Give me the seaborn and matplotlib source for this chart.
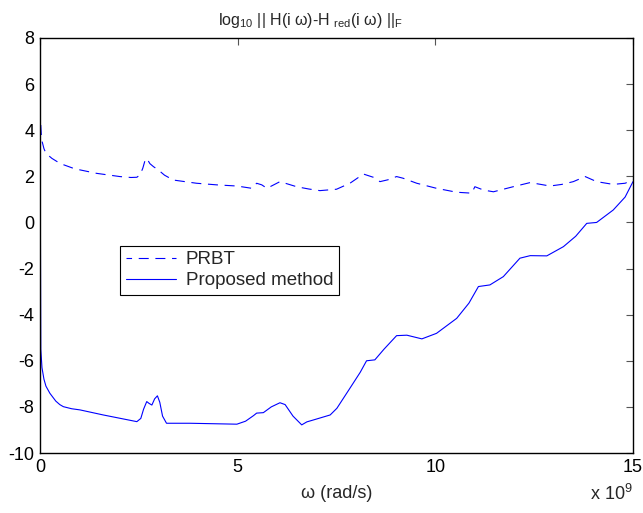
import matplotlib
matplotlib.use("Agg")
import matplotlib.pyplot as plt
import seaborn as sns

# Data (omega in units of 1e9 rad/s)
prbt_w = [0.0, 0.01, 0.04, 0.10, 0.15, 0.30, 0.45, 0.60, 0.84, 1.01, 1.43, 2.02, 2.30, 2.45,
          2.53, 2.60, 2.66, 2.70, 2.78, 2.87, 2.99, 3.15, 3.37, 3.96, 4.47, 4.98, 5.36, 5.48,
          5.61, 5.74, 5.90, 6.07, 6.30, 6.49, 6.80, 7.08, 7.50, 7.84, 8.18, 8.43, 8.60,
          8.80, 9.02, 9.18, 9.53, 10.03, 10.54, 10.92, 11.00, 11.15, 11.30, 11.47, 11.97,
          12.40, 12.90, 13.20, 13.49, 13.79, 14.08, 14.50, 14.80, 15.0]
prbt_v = [6.2, 4.5, 3.6, 3.2, 3.0, 2.78, 2.62, 2.5, 2.35, 2.28, 2.13, 1.99, 1.95, 1.96,
          2.06, 2.35, 2.71, 2.78, 2.55, 2.42, 2.28, 2.05, 1.84, 1.70, 1.63, 1.58, 1.48, 1.70,
          1.63, 1.48, 1.62, 1.77, 1.65, 1.55, 1.45, 1.38, 1.44, 1.70, 2.10, 1.96, 1.77,
          1.85, 1.99, 1.92, 1.70, 1.48, 1.31, 1.27, 1.55, 1.45, 1.38, 1.33, 1.55,
          1.73, 1.58, 1.65, 1.77, 1.99, 1.77, 1.65, 1.70, 1.84]

prop_w = [0.0, 0.02, 0.05, 0.10, 0.15, 0.25, 0.40, 0.50, 0.59, 0.80, 1.01, 1.60, 2.45, 2.55,
          2.62, 2.70, 2.76, 2.83, 2.90, 2.97, 3.03, 3.10, 3.20, 3.79, 4.98, 5.20, 5.40, 5.48,
          5.65, 5.85, 6.07, 6.20, 6.40, 6.62, 6.75, 6.91, 7.34, 7.51, 7.84, 8.10, 8.26,
          8.47, 8.70, 9.02, 9.28, 9.66, 10.03, 10.54, 10.85, 11.09, 11.38, 11.72, 12.14,
          12.40, 12.82, 13.24, 13.55, 13.83, 14.08, 14.50, 14.80, 15.0]
prop_v = [5.5, -5.5, -6.3, -6.8, -7.1, -7.41, -7.75, -7.9, -7.99, -8.08, -8.13, -8.35, -8.64,
          -8.5, -8.1, -7.77, -7.85, -7.92, -7.65, -7.52, -7.8, -8.4, -8.71, -8.71, -8.75,
          -8.62, -8.38, -8.27, -8.25, -8.0, -7.82, -7.9, -8.4, -8.78, -8.65, -8.57, -8.35,
          -8.06, -7.19, -6.5, -6.0, -5.96, -5.5, -4.91, -4.89, -5.05, -4.81, -4.16, -3.5,
          -2.78, -2.71, -2.35, -1.55, -1.44, -1.45, -1.05, -0.6, -0.04, 0.0, 0.54, 1.1, 1.77]

xticks = [0, 5, 10, 15]
yticks = list(range(-10, 9, 2))

sns.set_theme(style="white")
plt.rcParams["font.family"] = ["Liberation Sans", "DejaVu Sans"]
plt.rcParams["mathtext.fontset"] = "custom"
plt.rcParams["mathtext.rm"] = "Liberation Sans"
plt.rcParams["mathtext.it"] = "Liberation Sans"

fig = plt.figure(figsize=(6.43, 5.13), dpi=100)
ax = fig.add_axes([40 / 643, 1 - 453 / 513, 593 / 643, 415 / 513])

sns.lineplot(x=prbt_w, y=prbt_v, ax=ax, color="#0000ff", lw=0.8, sort=False,
             estimator=None, label="PRBT", linestyle=(4, (9, 6)))
sns.lineplot(x=prop_w, y=prop_v, ax=ax, color="#0000ff", lw=0.8, sort=False,
             estimator=None, label="Proposed method")

ax.set_xlim(0, 15)
ax.set_ylim(-10, 8)
ax.set_xticks(xticks)
ax.set_yticks(yticks)
ax.set_xticklabels([str(t) for t in xticks])
ax.set_yticklabels([str(t) for t in yticks])
ax.tick_params(direction="in", length=5, width=0.8, top=True, right=True,
               labelsize=13, labelcolor="black", pad=4)
ax.tick_params(axis="both", which="both", color="#555555")
for s in ax.spines.values():
    s.set_visible(True)
    s.set_color("black")
    s.set_linewidth(1.0)

ax.text((310 - 40) / 593, 1 + 8 / 415, r"log$_{10}$ || H(i ω)-H $_{\rm red}$(i ω) ||$_{\rm F}$",
        transform=ax.transAxes, ha="center", va="bottom", fontsize=11.5)
ax.set_xlabel("ω (rad/s)", fontsize=13, labelpad=7)
ax.set_ylabel("")
ax.text(1.0, (453 - 500) / 415, r"x 10$^{9}$", transform=ax.transAxes, ha="right",
        va="baseline", fontsize=13)

leg = ax.legend(loc="upper left", bbox_to_anchor=(0.135, 0.50), fancybox=False,
                edgecolor="black", framealpha=1, fontsize=13.5, handlelength=2.7,
                borderpad=0.3, labelspacing=0.2, handletextpad=0.5, borderaxespad=0)
leg.get_frame().set_linewidth(0.8)

fig.savefig("out.png", dpi=100)
